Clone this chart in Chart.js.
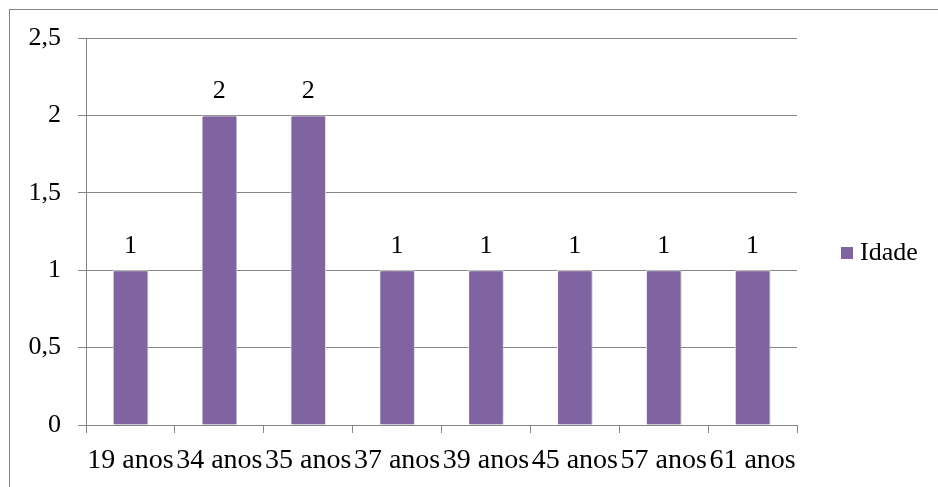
<!DOCTYPE html>
<html>
<head>
<meta charset="utf-8">
<script src="https://cdn.jsdelivr.net/npm/chart.js@4/dist/chart.umd.min.js"></script>
<style>
  body { margin: 0; background: #fff; }
  #wrap { position: relative; width: 938px; height: 487px; }
  #legend { position: absolute; left: 841px; top: 237px; font-family: "Liberation Serif"; font-size: 26px; color: #000; white-space: nowrap; }
  #legend span.box { display: inline-block; width: 12px; height: 12px; background: #8064A2; margin-right: 7px; vertical-align: 1px; }
</style>
</head>
<body>
<div id="wrap">
  <canvas id="bar" width="938" height="487"></canvas>
  <div id="legend"><span class="box"></span>Idade</div>
</div>
<script>
let categories = ["19 anos", "34 anos", "35 anos", "37 anos", "39 anos", "45 anos", "57 anos", "61 anos"];
let idade = [1, 2, 2, 1, 1, 1, 1, 1];
let yTicks = [0, 0.5, 1, 1.5, 2, 2.5];

let gridColor = "#868686";

// frame around the whole chart
let framePlugin = {
    id: "frame",
    beforeDraw: function (chart) {
        let ctx = chart.ctx;
        ctx.save();
        ctx.strokeStyle = gridColor;
        ctx.lineWidth = 1;
        ctx.strokeRect(9.5, 9.5, 2000, 2000);
        ctx.restore();
    }
};

// soft shadow behind the bars
let shadowPlugin = {
    id: "shadow",
    beforeDatasetsDraw: function (chart) {
        let ctx = chart.ctx;
        ctx.save();
        ctx.shadowColor = "rgba(0,0,0,0.3)";
        ctx.shadowBlur = 3;
        ctx.shadowOffsetX = 1.5;
        ctx.shadowOffsetY = 0;
    },
    afterDatasetsDraw: function (chart) {
        chart.ctx.restore();
    }
};

// value labels above the bars
let labelPlugin = {
    id: "valueLabels",
    afterDatasetsDraw: function (chart) {
        let ctx = chart.ctx;
        ctx.save();
        ctx.font = "26px 'Liberation Serif'";
        ctx.fillStyle = "#000";
        ctx.textAlign = "center";
        ctx.textBaseline = "alphabetic";
        chart.getDatasetMeta(0).data.forEach(function (bar, i) {
            ctx.fillText(String(idade[i]), bar.x, bar.y - 17);
        });
        ctx.restore();
    }
};

let bar = document.getElementById("bar").getContext("2d");
let barChart = new Chart(bar, {
    type: "bar",
    data: {
        labels: categories,
        datasets: [{
            label: "Idade",
            data: idade,
            backgroundColor: "#8064A2",
            borderColor: "#ffffff",
            borderWidth: 1,
            categoryPercentage: 1,
            barPercentage: 0.4
        }]
    },
    options: {
        responsive: false,
        animation: false,
        layout: {
            padding: { left: 0, right: 141, top: 38, bottom: 0 }
        },
        plugins: {
            legend: { display: false },
            tooltip: { enabled: false }
        },
        scales: {
            x: {
                grid: {
                    offset: true,
                    drawOnChartArea: false,
                    color: gridColor,
                    tickLength: 8
                },
                border: { color: gridColor },
                ticks: {
                    color: "#000",
                    font: { family: "Liberation Serif", size: 28 },
                    padding: 11,
                    maxRotation: 0,
                    autoSkip: false
                },
                afterFit: function (scale) { scale.height = 62; }
            },
            y: {
                min: 0,
                max: 2.5,
                afterBuildTicks: function (scale) {
                    scale.ticks = yTicks.map(function (v) { return { value: v }; });
                },
                grid: {
                    color: gridColor,
                    tickLength: 8
                },
                border: { color: gridColor },
                ticks: {
                    color: "#000",
                    font: { family: "Liberation Serif", size: 26 },
                    padding: 17,
                    callback: function (v) { return String(v).replace(".", ","); }
                },
                afterFit: function (scale) { scale.width = 86; }
            }
        }
    },
    plugins: [framePlugin, shadowPlugin, labelPlugin]
});
</script>
</body>
</html>
